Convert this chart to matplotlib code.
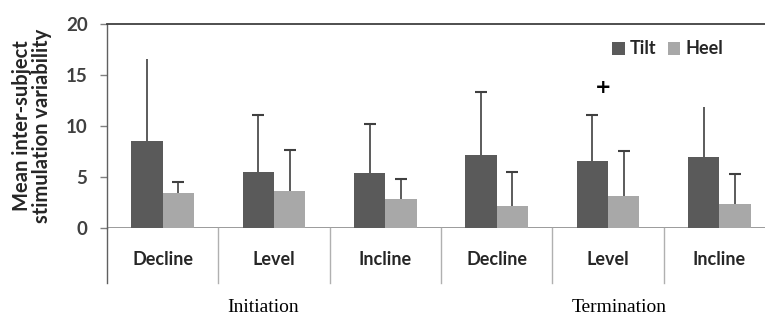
import matplotlib
matplotlib.use("Agg")
import matplotlib.pyplot as plt
import numpy as np

categories = ["Decline", "Level", "Incline", "Decline", "Level", "Incline"]
groups = ["Initiation", "Termination"]
tilt = [8.55, 5.5, 5.4, 7.2, 6.55, 6.95]
tilt_err = [8.05, 5.55, 4.8, 6.15, 4.5, 4.9]
heel = [3.4, 3.65, 2.8, 2.15, 3.15, 2.4]
heel_err = [1.1, 4.0, 2.05, 3.35, 4.4, 2.9]
tilt_caps = [False, True, True, True, True, False]
yticks = [0, 5, 10, 15, 20]

TILT_C = "#5a5a5a"
HEEL_C = "#a8a8a8"
ERR_C = "#404040"
TXT_C = "#262626"

fig = plt.figure(figsize=(7.65, 3.15), dpi=100)
ax = fig.add_axes([107/765, 87/315, 668/765, 204/315])

x = np.arange(len(categories))
w = 0.28
xt = x - w/2
xh = x + w/2
ax.bar(xt, tilt, width=w, color=TILT_C, label="Tilt", zorder=2)
ax.bar(xh, heel, width=w, color=HEEL_C, label="Heel", zorder=2)

# error bars (upper only)
tilt_top = np.array(tilt) + np.array(tilt_err)
heel_top = np.array(heel) + np.array(heel_err)
ax.vlines(xt, tilt, tilt_top, color=ERR_C, lw=1.2, zorder=3)
ax.vlines(xh, heel, heel_top, color=ERR_C, lw=1.2, zorder=3)
capped = np.array(tilt_caps)
ax.plot(xt[capped], tilt_top[capped], ls="none", marker="_", ms=9, mew=1.5,
        color=ERR_C, zorder=3)
ax.plot(xh, heel_top, ls="none", marker="_", ms=9, mew=1.5, color=ERR_C, zorder=3)

ax.set_xlim(-0.5, len(categories) - 0.5)
ax.set_ylim(0, 20)
ax.set_yticks(yticks)
ax.set_yticklabels([str(t) for t in yticks], fontfamily="Lato",
                   fontweight="bold", fontsize=13.5, color="#404040")
ax.tick_params(axis="y", direction="out", length=5, width=1, color="#808080", pad=9)
ax.set_xticks([])

for s in ["right", "bottom"]:
    ax.spines[s].set_visible(False)
ax.spines["top"].set_color("#404040")
ax.spines["top"].set_linewidth(1.3)
ax.spines["left"].set_color("#606060")
ax.spines["left"].set_linewidth(1.0)

# x-axis line at zero
ax.axhline(0, color="#8a8a8a", lw=1.2, zorder=1)

# separators below axis
yb = -(283 - 228) / 10.2
for i in range(len(categories) + 1):
    xs = i - 0.5
    ax.plot([xs, xs], [0, yb], color="#606060" if i == 0 else "#b0b0b0",
            lw=1.0, clip_on=False)

# category labels
for xi, c in zip(x, categories):
    ax.text(xi, -3.1, c, ha="center", va="center", fontfamily="Lato",
            fontweight="bold", fontsize=13, color=TXT_C, clip_on=False)

# group labels
ax.text(0.9, -7.8, groups[0], ha="center", va="center",
        fontfamily="Liberation Serif", fontsize=14, color="black", clip_on=False)
ax.text(4.1, -7.8, groups[1], ha="center", va="center",
        fontfamily="Liberation Serif", fontsize=14, color="black", clip_on=False)

# significance marker
ax.text(3.956, 13.8, "+", ha="center", va="center", fontsize=14,
        fontweight="bold", color="black", fontfamily="DejaVu Sans")

ax.set_ylabel("Mean inter-subject\nstimulation variability", fontfamily="Lato",
              fontweight="bold", fontsize=14.5, color=TXT_C, labelpad=10,
              linespacing=1.0)

leg = ax.legend(loc="center left", bbox_to_anchor=((612 - 107) / 668, (228 - 49) / 204),
                ncol=2, frameon=False, borderaxespad=0, borderpad=0,
                handlelength=0.7, handleheight=0.7, handletextpad=0.3,
                columnspacing=0.6, prop={"family": "Lato", "weight": "bold", "size": 13})
for t in leg.get_texts():
    t.set_color(TXT_C)

fig.savefig("out.png", dpi=100)
